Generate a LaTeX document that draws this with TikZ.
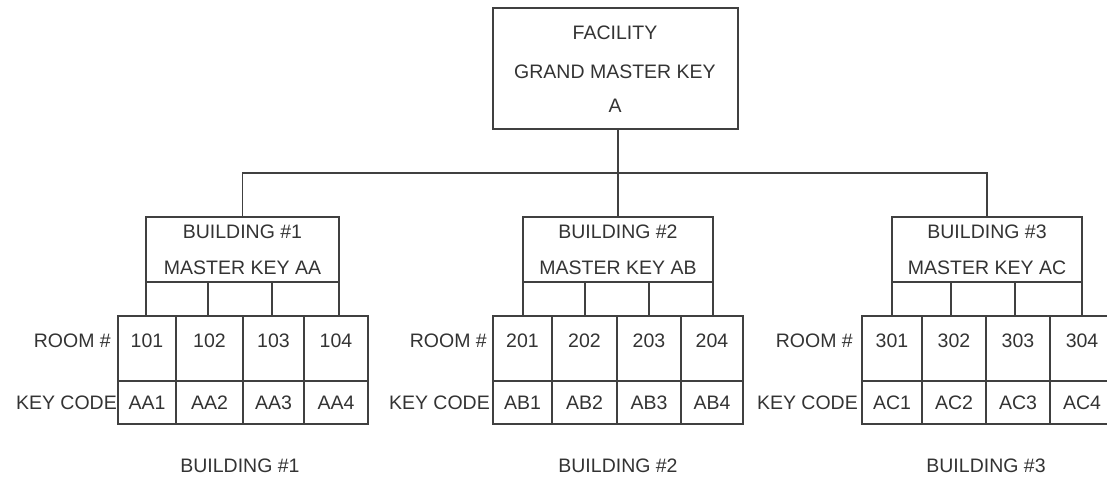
\documentclass[tikz,border=0pt]{standalone}
\usepackage{fontspec}
\setmainfont{Liberation Sans}
\begin{document}
\begin{tikzpicture}[x=1pt,y=-1pt,
  box/.style={draw=black!75, line width=1.3pt, rectangle, inner sep=0pt, outer sep=0pt},
  txt/.style={font=\fontsize{19.5}{21}\selectfont, text=black!80, inner sep=0pt, text height=14pt, text depth=0pt},
  wire/.style={draw=black!75, line width=1.3pt}]
\useasboundingbox (0,0) rectangle (1107,480);
\clip (0,0) rectangle (1107,480);
% top box
\node[box, minimum width=245, minimum height=121] (top) at (615.5,68.5) {};
\node[txt] (t1) at (615,32) {FACILITY};
\node[txt] (t2) at (615,71) {GRAND MASTER KEY};
\node[txt] (t3) at (615,105) {A};
\coordinate (j) at (618,173);
\foreach \i/\bl/\br/\da/\db/\ca/\cb/\cc/\cd/\ce/\rr/\kr/\cx/\code in {
 1/146/339/208/272/118/176/243/304/368/111/117/240/AA,
 2/523/713/585/649/493/552/617/681/743/487/490/618/AB,
 3/892/1082/951/1015/862/922/986/1050/1114/853/858/986/AC}{
  \node[box, minimum width=\br-\bl, minimum height=65] (b\i) at ({(\bl+\br)/2},249.5) {};
  \node[txt] (b\i l1) at ({(\bl+\br)/2},231) {BUILDING \#\i};
  \node[txt] (b\i l2) at ({(\bl+\br)/2},267) {MASTER KEY \code};
  \foreach \n/\l/\r in {1/\ca/\cb, 2/\cb/\cc, 3/\cc/\cd, 4/\cd/\ce}{
    \node[box, minimum width=\r-\l, minimum height=65] (r\i\n) at ({(\l+\r)/2},348.5) {};
    \node[box, minimum width=\r-\l, minimum height=43] (k\i\n) at ({(\l+\r)/2},402.5) {};
    \node[txt] (rt\i\n) at ({(\l+\r)/2},340) {\i0\n};
    \node[txt] (kt\i\n) at ({(\l+\r)/2},402) {\code\n};
  }
  \coordinate (d\i a) at (\da,282);
  \coordinate (d\i b) at (\db,282);
  \draw[wire] (b\i.south west) -- (b\i.south west |- r\i1.north);
  \draw[wire] (d\i a) -- (d\i a |- r\i1.north);
  \draw[wire] (d\i b) -- (d\i b |- r\i1.north);
  \draw[wire] (b\i.south east) -- (b\i.south east |- r\i1.north);
  \node[txt, anchor=east] (room\i) at (\rr,340) {ROOM \#};
  \node[txt, anchor=east] (key\i) at (\kr,402) {KEY CODE};
  \node[txt] (cap\i) at (\cx,465) {BUILDING \#\i};
}
\draw[wire] (top.south -| j) -- (j);
\draw[wire] (b1.north) |- (j) -| (b3.north);
\draw[wire] (j) -- (b2.north);
\end{tikzpicture}
\end{document}
